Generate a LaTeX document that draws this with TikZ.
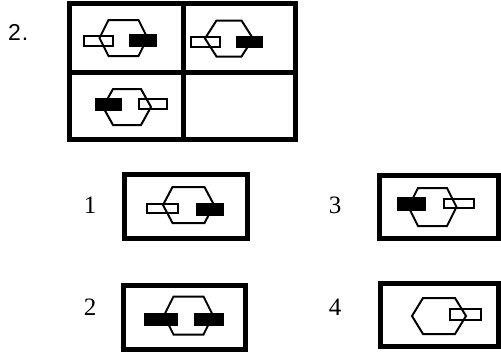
\documentclass[tikz,border=0pt]{standalone}
\usepackage{fontspec}
\newfontfamily\qfont{Liberation Sans}
\newfontfamily\optfont{Liberation Serif}
\usetikzlibrary{positioning}

% hexagon: centre x, centre y, half width, half top edge, half height
\newcommand{\hexa}[5]{%
  \draw[hexline] (#1-#3,#2) -- (#1-#4,#2-#5) -- (#1+#4,#2-#5) -- (#1+#3,#2)
    -- (#1+#4,#2+#5) -- (#1-#4,#2+#5) -- cycle;}

\begin{document}
\begin{tikzpicture}[
    x=1pt, y=-1pt,
    frame/.style={draw, line width=5pt, line join=miter},
    hexline/.style={draw, line width=2pt, line join=miter},
    openbar/.style={draw, line width=2pt},
    solidbar/.style={fill=black},
    qlbl/.style={font=\qfont\fontsize{23}{27}\selectfont, inner sep=0pt},
    optlbl/.style={font=\optfont\fontsize{25}{30}\selectfont, inner sep=0pt},
]
\useasboundingbox (0,0) rectangle (501,356);

% --- question number ---
\node[qlbl, anchor=base west] (qnum) at (8,40) {2\kern1pt.};

% --- 2x2 grid ---
\draw[frame] (69.5,3) rectangle (295,139);
\draw[frame] (183,3) -- (183,139);
\draw[frame] (69.5,72) -- (295,72);

% cell 1
\hexa{123.5}{38}{24}{15}{18}
\draw[openbar] (84,36) rectangle (113,46);
\fill[solidbar] (129,34) rectangle (157,47);
% cell 2
\hexa{229}{38.5}{24}{12.5}{18}
\draw[openbar] (191,37) rectangle (220,47);
\fill[solidbar] (236,36) rectangle (263,48);
% cell 3
\hexa{127}{107}{24}{14}{18}
\fill[solidbar] (95,98) rectangle (122,111);
\draw[openbar] (139,99) rectangle (167,109);

% --- answer options ---
\node[optlbl] (opt1) at (90,205) {1};
\node[optlbl] (opt2) at (90,307) {2};
\node[optlbl] (opt3) at (335,205) {3};
\node[optlbl] (opt4) at (335,307) {4};

\draw[frame] (124.5,174.5) rectangle (247,238.5);
\draw[frame] (123.5,285) rectangle (245.5,349.5);
\draw[frame] (379,175) rectangle (498.5,238.5);
\draw[frame] (380,283.5) rectangle (498.5,346.5);

% option 1
\hexa{188.5}{205}{25.5}{16}{18}
\draw[openbar] (147,204) rectangle (178,213);
\fill[solidbar] (196,203) rectangle (224,216);
% option 2
\hexa{188.5}{315.5}{24.5}{15}{19}
\fill[solidbar] (144,313) rectangle (178,326);
\fill[solidbar] (194,313) rectangle (224,326);
% option 3
\hexa{432.5}{207}{24}{14.5}{19}
\fill[solidbar] (397,197) rectangle (426,211);
\draw[openbar] (444,199) rectangle (474,208);
% option 4
\hexa{439}{316}{27}{16}{18}
\draw[openbar] (450,309) rectangle (481,320);

\end{tikzpicture}
\end{document}
